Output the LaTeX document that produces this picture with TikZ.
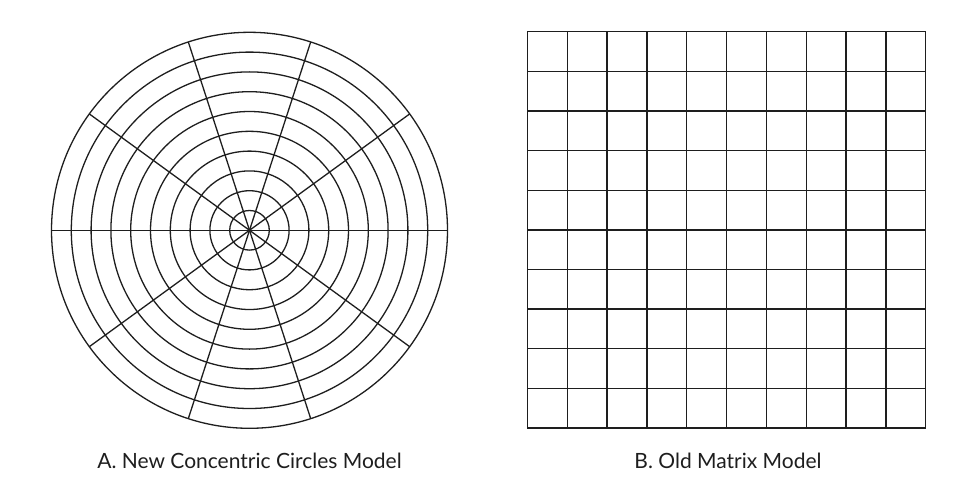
\documentclass[tikz,border=0pt]{standalone}
\usepackage{fontspec}
\setmainfont{Lato}
\usetikzlibrary{calc}
\definecolor{ink}{HTML}{1E1E1E}
\begin{document}
\begin{tikzpicture}[x=1pt,y=-1pt,
  gridline/.style={draw=ink,line width=1.3pt,line cap=rect},
  caption/.style={text=ink,font=\fontsize{21}{24}\selectfont,anchor=base,inner sep=0pt}]
\useasboundingbox[fill=white] (0,0) rectangle (966,487);
% concentric circles model
\coordinate (c) at (249.5,230.3);
\foreach \k in {1,...,10}{
  \draw[gridline] (c) circle[radius=19.8*\k];
}
\foreach \a in {0,36,72,108,144}{
  \draw[gridline,line cap=butt] ($(c)+(\a:198)$) -- ($(c)+(\a+180:198)$);
}
% matrix model
\foreach \i in {0,...,10}{
  \draw[gridline] (527.5+39.82*\i,31.7) -- (527.5+39.82*\i,428);
  \draw[gridline] (527.5,31.7+39.63*\i) -- (925.7,31.7+39.63*\i);
}
\node[caption] (capA) at (249.5,468.5) {A. New Concentric Circles Model};
\node[caption] (capB) at (728,468.5) {B. Old Matrix Model};
\end{tikzpicture}
\end{document}
